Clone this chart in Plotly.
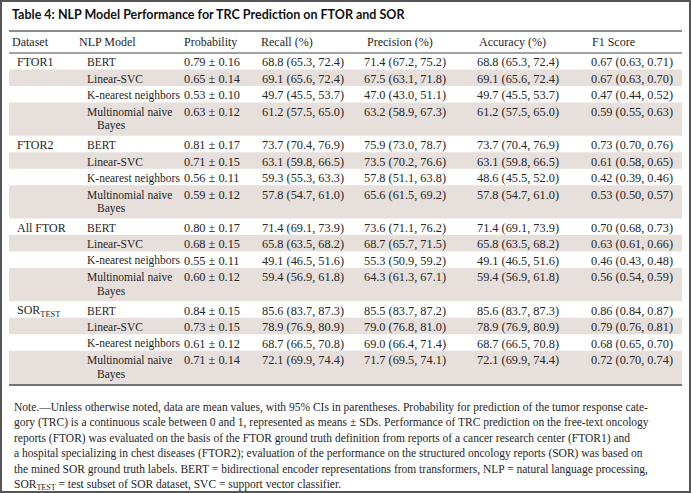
import plotly.graph_objects as go

title = "Table 4: NLP Model Performance for TRC Prediction on FTOR and SOR"
headers = ["Dataset", "NLP Model", "Probability", "Recall (%)", "Precision (%)", "Accuracy (%)", "F1 Score"]

datasets = ["FTOR1", "FTOR2", "All FTOR", "SOR<sub>TEST</sub>"]
models = ["BERT", "Linear-SVC", "K-nearest neighbors", "Multinomial naive<br>Bayes"]

probability = [
    "0.79 ± 0.16", "0.65 ± 0.14", "0.53 ± 0.10", "0.63 ± 0.12",
    "0.81 ± 0.17", "0.71 ± 0.15", "0.56 ± 0.11", "0.59 ± 0.12",
    "0.80 ± 0.17", "0.68 ± 0.15", "0.55 ± 0.11", "0.60 ± 0.12",
    "0.84 ± 0.15", "0.73 ± 0.15", "0.61 ± 0.12", "0.71 ± 0.14",
]
recall = [
    "68.8 (65.3, 72.4)", "69.1 (65.6, 72.4)", "49.7 (45.5, 53.7)", "61.2 (57.5, 65.0)",
    "73.7 (70.4, 76.9)", "63.1 (59.8, 66.5)", "59.3 (55.3, 63.3)", "57.8 (54.7, 61.0)",
    "71.4 (69.1, 73.9)", "65.8 (63.5, 68.2)", "49.1 (46.5, 51.6)", "59.4 (56.9, 61.8)",
    "85.6 (83.7, 87.3)", "78.9 (76.9, 80.9)", "68.7 (66.5, 70.8)", "72.1 (69.9, 74.4)",
]
precision = [
    "71.4 (67.2, 75.2)", "67.5 (63.1, 71.8)", "47.0 (43.0, 51.1)", "63.2 (58.9, 67.3)",
    "75.9 (73.0, 78.7)", "73.5 (70.2, 76.6)", "57.8 (51.1, 63.8)", "65.6 (61.5, 69.2)",
    "73.6 (71.1, 76.2)", "68.7 (65.7, 71.5)", "55.3 (50.9, 59.2)", "64.3 (61.3, 67.1)",
    "85.5 (83.7, 87.2)", "79.0 (76.8, 81.0)", "69.0 (66.4, 71.4)", "71.7 (69.5, 74.1)",
]
accuracy = [
    "68.8 (65.3, 72.4)", "69.1 (65.6, 72.4)", "49.7 (45.5, 53.7)", "61.2 (57.5, 65.0)",
    "73.7 (70.4, 76.9)", "63.1 (59.8, 66.5)", "48.6 (45.5, 52.0)", "57.8 (54.7, 61.0)",
    "71.4 (69.1, 73.9)", "65.8 (63.5, 68.2)", "49.1 (46.5, 51.6)", "59.4 (56.9, 61.8)",
    "85.6 (83.7, 87.3)", "78.9 (76.9, 80.9)", "68.7 (66.5, 70.8)", "72.1 (69.9, 74.4)",
]
f1 = [
    "0.67 (0.63, 0.71)", "0.67 (0.63, 0.70)", "0.47 (0.44, 0.52)", "0.59 (0.55, 0.63)",
    "0.73 (0.70, 0.76)", "0.61 (0.58, 0.65)", "0.42 (0.39, 0.46)", "0.53 (0.50, 0.57)",
    "0.70 (0.68, 0.73)", "0.63 (0.61, 0.66)", "0.46 (0.43, 0.48)", "0.56 (0.54, 0.59)",
    "0.86 (0.84, 0.87)", "0.79 (0.76, 0.81)", "0.68 (0.65, 0.70)", "0.72 (0.70, 0.74)",
]
note_lines = [
    "Note.—Unless otherwise noted, data are mean values, with 95% CIs in parentheses. Probability for prediction of the tumor response cate-",
    "gory (TRC) is a continuous scale between 0 and 1, represented as means ± SDs. Performance of TRC prediction on the free-text oncology",
    "reports (FTOR) was evaluated on the basis of the FTOR ground truth definition from reports of a cancer research center (FTOR1) and",
    "a hospital specializing in chest diseases (FTOR2); evaluation of the performance on the structured oncology reports (SOR) was based on",
    "the mined SOR ground truth labels. BERT = bidirectional encoder representations from transformers, NLP = natural language processing,",
    "SOR<sub>TEST</sub> = test subset of SOR dataset, SVC = support vector classifier.",
]

# ---- layout constants ----
W, H = 691, 493
LEFT, RIGHT = 9, 682
SERIF = "Liberation Serif, Times New Roman, serif"
TXT = "#262626"
SHADE = "#e6dfdb"
FS = 11.5       # text cells
FS_NUM = 12.3   # numeric cells
FS_HEAD = 12
col_x = [10, 77, 182, 259, 365, 477, 590]
val_x = [15, 85, 182, 260, 362, 475, 589]
header_y = 42
header_line = 53
single_h = 16.5
double_h = 33.25
line_gap = 14

fig = go.Figure()
shapes = []
ann = []

# outer border
shapes.append(dict(type="rect", x0=1, x1=W - 1, y0=1, y1=H - 1, line=dict(color="#555555", width=2)))
# title
ann.append(dict(x=10, y=14, text="<b>" + title + "</b>", xanchor="left", yanchor="middle",
                font=dict(family="Lato", size=12.5, color="#111111")))
shapes.append(dict(type="line", x0=LEFT, x1=RIGHT, y0=31, y1=31, line=dict(color="#8c8c8c", width=2)))
# headers
for x, h in zip(col_x, headers):
    ann.append(dict(x=x, y=header_y, text=h, xanchor="left", yanchor="middle",
                    font=dict(family=SERIF, size=FS_HEAD, color=TXT)))
shapes.append(dict(type="line", x0=LEFT, x1=RIGHT, y0=header_line, y1=header_line,
                   line=dict(color="#444444", width=1)))

cols = [probability, recall, precision, accuracy, f1]
y = header_line
k = 0
for g, ds in enumerate(datasets):
    for m, model in enumerate(models):
        hgt = double_h if m == len(models) - 1 else single_h
        if m % 2 == 1:
            shapes.append(dict(type="rect", x0=LEFT, x1=RIGHT, y0=y, y1=y + hgt,
                               fillcolor=SHADE, line=dict(width=0), layer="below"))
        yc = y + single_h / 2 + 1
        if m == 0:
            ann.append(dict(x=val_x[0], y=yc, text=ds, xanchor="left", yanchor="middle",
                            font=dict(family=SERIF, size=FS_HEAD, color=TXT)))
        parts = model.split("<br>")
        ann.append(dict(x=val_x[1], y=yc, text=parts[0], xanchor="left", yanchor="middle",
                        font=dict(family=SERIF, size=FS, color=TXT)))
        if len(parts) > 1:
            ann.append(dict(x=val_x[1] + 10, y=yc + line_gap, text=parts[1], xanchor="left",
                            yanchor="middle", font=dict(family=SERIF, size=FS, color=TXT)))
        for ci, col in enumerate(cols):
            ann.append(dict(x=val_x[ci + 2], y=yc, text=col[k], xanchor="left", yanchor="middle",
                            font=dict(family=SERIF, size=FS_NUM, color=TXT)))
        y += hgt
        k += 1

shapes.append(dict(type="line", x0=LEFT, x1=RIGHT, y0=y + 1, y1=y + 1, line=dict(color="#444444", width=1.5)))

note_y0 = 407
note_gap = 15.5
for i, line in enumerate(note_lines):
    ann.append(dict(x=12, y=note_y0 + i * note_gap, text=line, xanchor="left", yanchor="middle",
                    font=dict(family=SERIF, size=11.5, color=TXT)))

for a in ann:
    a.update(xref="x", yref="y", showarrow=False)

fig.update_layout(
    width=W, height=H, margin=dict(l=0, r=0, t=0, b=0),
    paper_bgcolor="white", plot_bgcolor="white",
    xaxis=dict(range=[0, W], visible=False, fixedrange=True),
    yaxis=dict(range=[H, 0], visible=False, fixedrange=True),
    shapes=shapes, annotations=ann, showlegend=False,
)
fig.write_html("out.html", config={"displayModeBar": False},
               post_script="document.body.style.margin='0px';document.body.style.overflow='hidden';")
